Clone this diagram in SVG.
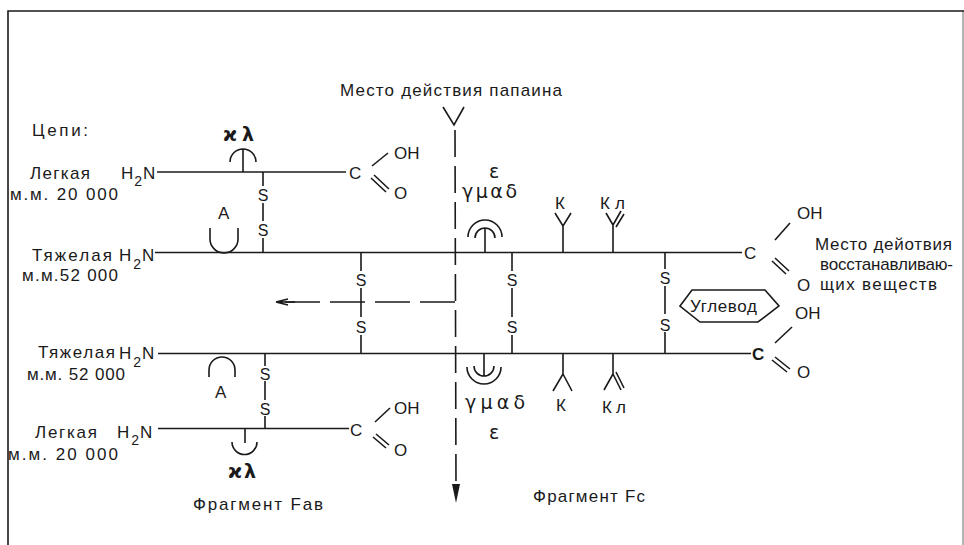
<svg xmlns="http://www.w3.org/2000/svg" width="964" height="545" viewBox="0 0 964 545">
<defs>
<style>
.ln{stroke:#1a1a1a;stroke-width:1.6;fill:none;stroke-linecap:butt}
.th{stroke:#1a1a1a;stroke-width:1.3;fill:none}
.dash{stroke:#1a1a1a;stroke-width:1.6;fill:none;stroke-dasharray:27 9}
.t{font-family:"Liberation Sans",Arial,sans-serif;font-size:17px;fill:#1a1a1a}
.g{font-family:"DejaVu Sans","Liberation Sans",sans-serif;font-size:19px;fill:#1a1a1a}
.s{font-family:"Liberation Sans",Arial,sans-serif;font-size:16px;fill:#1a1a1a;text-anchor:middle}
.sub{font-size:14px}
</style>
</defs>
<rect width="964" height="545" fill="#fff"/>
<!-- frame -->
<path class="ln" d="M8,545 V11 H964"/>
<path class="th" d="M963,11 V545" stroke-opacity="0.5"/>

<g id="title">
<text class="t" x="340" y="96" textLength="222" lengthAdjust="spacing">Место действия папаина</text>
<polyline class="ln" points="443,107 454,125 464,107"/>
</g>
<text class="t" x="32" y="136" textLength="56" lengthAdjust="spacing">Цепи:</text>

<g id="light-chain-1">
<text class="t" x="30" y="179" textLength="60" lengthAdjust="spacing">Легкая</text>
<text class="t" x="10" y="200" textLength="108" lengthAdjust="spacing">м.м. 20 000</text>
<text class="t" x="121" y="179" font-size="18">H<tspan class="sub" dx="1" dy="7">2</tspan><tspan dx="1" dy="-7">N</tspan></text>
<line class="ln" x1="157" y1="172" x2="346" y2="172"/>
<path class="ln" d="M230,162 A13,13 0 0 1 256,162 M243,149 V172"/>
<text class="g" x="223" y="141" font-weight="bold" textLength="31" lengthAdjust="spacing">ϰλ</text>
<text class="t" x="349" y="179" font-size="18">C</text>
<line class="ln" x1="372" y1="166" x2="388" y2="153"/>
<path class="ln" d="M371,178 L386,192 M374,175 L389,189"/>
<text class="t" x="394" y="159">OH</text>
<text class="t" x="394" y="199">O</text>
</g>

<g id="heavy-chain-1">
<text class="t" x="32" y="261" textLength="80" lengthAdjust="spacing">Тяжелая</text>
<text class="t" x="22" y="281" textLength="96" lengthAdjust="spacing">м.м.52 000</text>
<text class="t" x="119" y="261" font-size="18">H<tspan class="sub" dx="2" dy="8">2</tspan><tspan dx="1" dy="-8">N</tspan></text>
<line class="ln" x1="155" y1="252.5" x2="742" y2="252.5"/>
<path class="ln" d="M210,228 V239 A14,14 0 0 0 238,239 V228"/>
<text class="t" x="218" y="219" font-size="16">A</text>
<!-- umbrella -->
<path class="ln" d="M468,237 A17,17 0 0 1 502,237 M475,238 A10,10 0 0 1 495,238 M485,228 V252"/>
<text class="g" x="489" y="178">ε</text>
<text class="g" x="462" y="198" textLength="55" lengthAdjust="spacing">γμαδ</text>
<!-- K -->
<path class="ln" d="M555,213 L563,226 L571,213 M563,226 V252"/>
<text class="t" x="555" y="209" font-size="16">К</text>
<!-- Kl -->
<path class="ln" d="M606,213 L613,225 M613,225 L621,211 M616,227 L624,214 M613,225 V252"/>
<text class="t" x="600" y="209" font-size="16" textLength="25" lengthAdjust="spacing">Кл</text>
<text class="t" x="744" y="259" font-size="18">C</text>
<line class="ln" x1="775" y1="240" x2="790" y2="223"/>
<path class="ln" d="M772,261 L786,274 M775,258 L789,271"/>
<text class="t" x="797" y="219">OH</text>
<text class="t" x="797" y="291">O</text>
</g>

<g id="reducing-site">
<text class="t" x="815" y="250" textLength="137" lengthAdjust="spacing">Место дейотвия</text>
<text class="t" x="820" y="270" textLength="133" lengthAdjust="spacing">восстанавливаю-</text>
<text class="t" x="820" y="290" textLength="117" lengthAdjust="spacing">щих веществ</text>
</g>

<g id="carbohydrate">
<polygon class="ln" points="680,306 692,290 765,290 779,306 758,322 700,322"/>
<text class="t" x="690" y="312" textLength="67" lengthAdjust="spacing">Углевод</text>
</g>

<g id="heavy-chain-2">
<text class="t" x="38" y="358" font-size="16" textLength="77" lengthAdjust="spacing">Тяжелая</text>
<text class="t" x="27" y="380" font-size="16" textLength="98" lengthAdjust="spacing">м.м. 52 000</text>
<text class="t" x="119" y="359" font-size="18">H<tspan class="sub" dx="2" dy="8">2</tspan><tspan dx="1" dy="-8">N</tspan></text>
<line class="ln" x1="158" y1="353.5" x2="751" y2="353.5"/>
<path class="ln" d="M209,377 V370 A13,13 0 0 1 235,370 V377"/>
<text class="t" x="215" y="398" font-size="16">A</text>
<path class="ln" d="M467,367 A17,17 0 0 0 501,367 M474,366 A10,10 0 0 0 494,366 M484,354 V376"/>
<text class="g" x="465" y="409" textLength="60" lengthAdjust="spacing">γμαδ</text>
<text class="g" x="489" y="439">ε</text>
<path class="ln" d="M563,354 V374 L553,391 M563,374 L572,391"/>
<text class="t" x="556" y="411" font-size="16">К</text>
<path class="ln" d="M613,354 V374 L604,390 M613,374 L621,390 M616,372 L624,388"/>
<text class="t" x="602" y="413" font-size="16" textLength="24" lengthAdjust="spacing">Кл</text>
<text class="t" x="752" y="360" font-size="18" font-weight="bold">C</text>
<line class="ln" x1="775" y1="343" x2="792" y2="327"/>
<path class="ln" d="M772,360 L787,372 M775,357 L790,369"/>
<text class="t" x="795" y="319">OH</text>
<text class="t" x="797" y="378">O</text>
</g>

<g id="light-chain-2">
<text class="t" x="35" y="438" textLength="62" lengthAdjust="spacing">Легкая</text>
<text class="t" x="8" y="460" textLength="110" lengthAdjust="spacing">м.м. 20 000</text>
<text class="t" x="117" y="438" font-size="18">H<tspan class="sub" dx="2" dy="7">2</tspan><tspan dx="1" dy="-7">N</tspan></text>
<line class="ln" x1="158" y1="428.5" x2="349" y2="428.5"/>
<path class="ln" d="M245,428 V443 M232,442 A12.5,12.5 0 0 0 257,442"/>
<text class="g" x="228" y="478" font-weight="bold" textLength="28" lengthAdjust="spacing">ϰλ</text>
<text class="t" x="350" y="436" font-size="18">C</text>
<line class="ln" x1="375" y1="422" x2="390" y2="408"/>
<path class="ln" d="M373,437 L386,448 M376,434 L389,445"/>
<text class="t" x="394" y="414">OH</text>
<text class="t" x="394" y="456">O</text>
</g>

<g id="connectors">
<!-- disulfide bridges -->
<path class="ln" d="M263,172 V186 M263,203 V221 M263,238 V252"/>
<text class="s" x="263" y="201">S</text>
<text class="s" x="263" y="236">S</text>
<path class="ln" d="M361,253 V271 M361,288 V317 M361,335 V353"/>
<text class="s" x="361" y="286">S</text>
<text class="s" x="361" y="333">S</text>
<path class="ln" d="M512,253 V271 M512,288 V317 M512,335 V353"/>
<text class="s" x="512" y="286">S</text>
<text class="s" x="512" y="333">S</text>
<path class="ln" d="M665,253 V269 M665,286 V314 M665,332 V353"/>
<text class="s" x="665" y="284">S</text>
<text class="s" x="665" y="331">S</text>
<path class="ln" d="M265,354 V366 M265,381 V400 M265,416 V428"/>
<text class="s" x="265" y="380">S</text>
<text class="s" x="265" y="415">S</text>
<!-- papain cleavage line -->
<line class="dash" x1="455" y1="130" x2="456" y2="486"/>
<polygon points="452,484 460,484 456,503" fill="#1a1a1a"/>
<!-- horizontal dashed arrow -->
<line class="dash" x1="455" y1="302" x2="280" y2="302" style="stroke-dasharray:35 10"/>
<path class="ln" d="M276,302 H295 M276,302 L288,299 M276,302 L288,305"/>
</g>
<text class="t" x="193" y="510" font-size="15" textLength="130" lengthAdjust="spacing">Фрагмент Fав</text>
<text class="t" x="533" y="502" font-size="15" textLength="112" lengthAdjust="spacing">Фрагмент Fc</text>
</svg>
